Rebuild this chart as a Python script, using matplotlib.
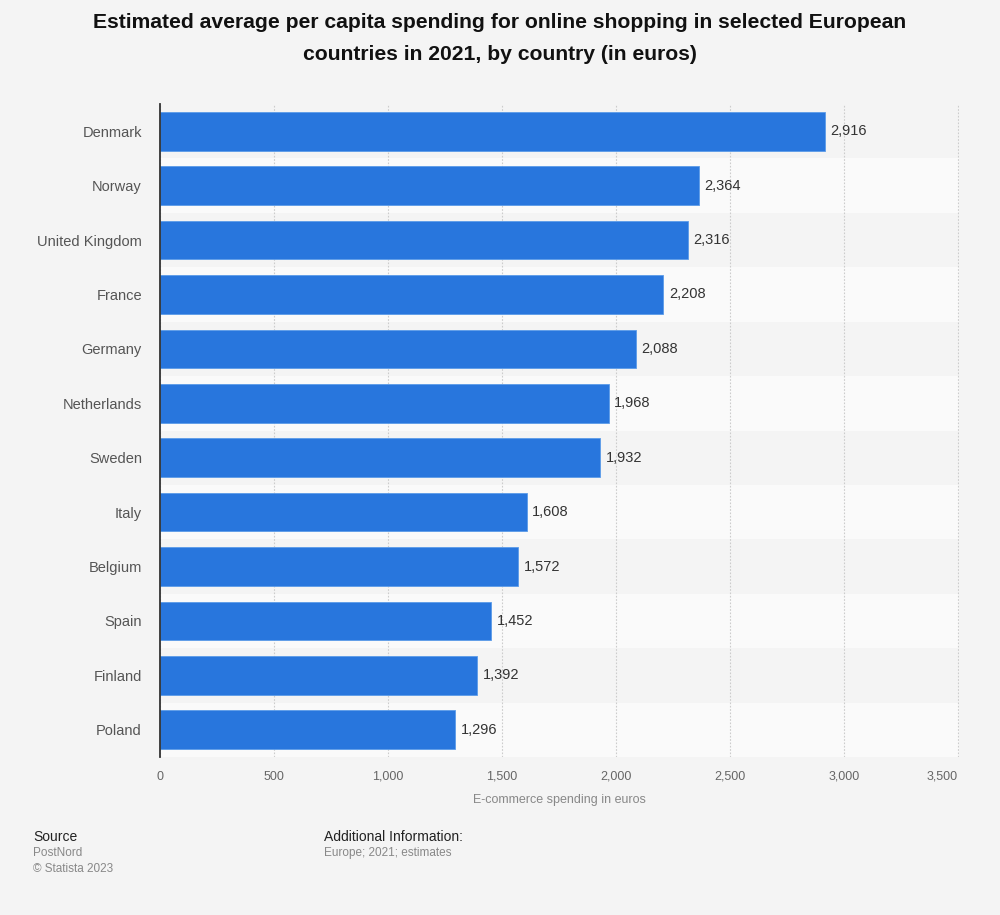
import matplotlib
matplotlib.use("Agg")
import matplotlib.pyplot as plt
from matplotlib.ticker import FuncFormatter

countries = ["Denmark", "Norway", "United Kingdom", "France", "Germany", "Netherlands",
             "Sweden", "Italy", "Belgium", "Spain", "Finland", "Poland"]
spending = [2916, 2364, 2316, 2208, 2088, 1968, 1932, 1608, 1572, 1452, 1392, 1296]
xticks = [0, 500, 1000, 1500, 2000, 2500, 3000, 3500]

plt.rcParams['font.family'] = ['Liberation Sans', 'DejaVu Sans']
BG = "#f4f4f4"
fig = plt.figure(figsize=(10, 9.15), dpi=100, facecolor=BG)
ax = fig.add_axes([0.16, 1 - 757/915, 0.799, (757 - 104)/915])
ax.set_facecolor(BG)

n = len(countries)
ypos = list(range(n))
for i in ypos:
    if i % 2 == 1:
        ax.axhspan(i - 0.5, i + 0.5, color="#fafafa", zorder=0, lw=0)

ax.barh(ypos, spending, height=0.71, color="#2876dd", zorder=3,
        edgecolor="#5b9be8", linewidth=0.6)
for y, v in zip(ypos, spending):
    ax.text(v + 25, y, f"{v:,}", va="center", ha="left", fontsize=10.5,
            color="#333333", zorder=4)

ax.set_ylim(n - 0.5, -0.5)
ax.set_xlim(0, 3505)
ax.set_yticks(ypos)
ax.set_yticklabels(countries, fontsize=10.5, color="#555555")
ax.set_xticks(xticks)
ax.xaxis.set_major_formatter(FuncFormatter(lambda v, p: f"{int(v):,}"))
ax.tick_params(axis="x", labelsize=9, colors="#666666", length=0, pad=10)
ax.tick_params(axis="y", length=0, pad=13)
xl = ax.get_xticklabels()
xl[-1].set_horizontalalignment("right")
ax.grid(axis="x", color="#cccccc", linestyle=(0, (1.5, 1.5)), linewidth=0.8, zorder=1)
ax.grid(axis="y", visible=False)
for s in ["top", "right", "bottom"]:
    ax.spines[s].set_visible(False)
ax.spines["left"].set_color("#333333")
ax.spines["left"].set_linewidth(1.3)
ax.spines["left"].set_zorder(5)
ax.set_xlabel("E-commerce spending in euros", fontsize=9, color="#888888", labelpad=8)

fig.text(0.5, 1 - 22/915, "Estimated average per capita spending for online shopping in selected European",
         ha="center", va="center", fontsize=15.2, fontweight="bold", color="#111111")
fig.text(0.5, 1 - 54/915, "countries in 2021, by country (in euros)",
         ha="center", va="center", fontsize=15.2, fontweight="bold", color="#111111")

fig.text(33/1000, 1 - 837/915, "Source", fontsize=10, color="#222222", va="center")
fig.text(33/1000, 1 - 853/915, "PostNord", fontsize=8.5, color="#888888", va="center")
fig.text(33/1000, 1 - 869/915, "© Statista 2023", fontsize=8.5, color="#888888", va="center")
fig.text(324/1000, 1 - 837/915, "Additional Information:", fontsize=10, color="#222222", va="center")
fig.text(324/1000, 1 - 853/915, "Europe; 2021; estimates", fontsize=8.5, color="#888888", va="center")

fig.savefig("out.png", dpi=100, facecolor=BG)
